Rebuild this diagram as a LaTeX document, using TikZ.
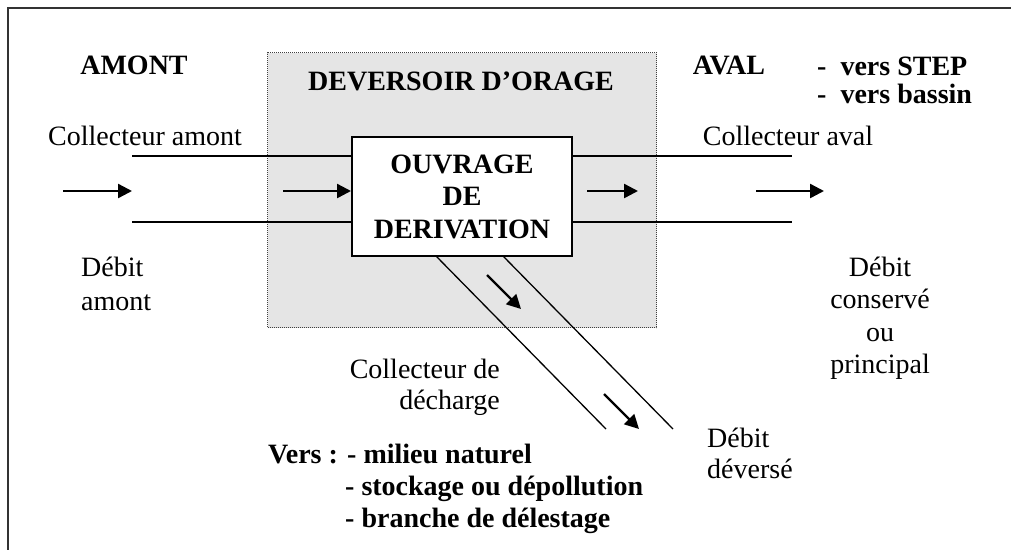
\documentclass[tikz,border=0pt]{standalone}
\usepackage{fontspec}
\setmainfont{Liberation Serif}
\usetikzlibrary{arrows.meta}
\begin{document}
\begin{tikzpicture}[x=1pt,y=-1pt,
  txt/.style={font=\fontsize{28}{33}\selectfont, inner sep=0pt},
  btxt/.style={font=\fontsize{28}{33}\selectfont\bfseries, inner sep=0pt},
  framefill/.style={fill=black!80},
  pipe/.style={line width=1.8pt},
  diag/.style={line width=1.3pt},
  flow/.style={line width=2.4pt, -{Triangle[length=14pt,width=14pt]}},
]
\useasboundingbox (0,0) rectangle (1011,550);
% deversoir zone
\node[draw=black!75, densely dotted, line width=1pt, fill=black!10,
      minimum width=389pt, minimum height=275pt, inner sep=0pt,
      anchor=north west] (dev) at (267,52) {};
% frame (cropped): left and top edges only
\coordinate (fl1) at (6.5,6.5);
\coordinate (fl2) at (8.5,550);
\coordinate (ft2) at (1011,8.5);
\fill[framefill] (fl1) rectangle (fl2);
\fill[framefill] (fl1) rectangle (ft2);
% pipes
\coordinate (ua) at (132,156);
\coordinate (la) at (132,222);
\coordinate (ub) at (792,156);
\coordinate (lb) at (792,222);
\coordinate (d1s) at (436,256);
\coordinate (d1e) at (606,429);
\coordinate (d2s) at (503,256);
\coordinate (d2e) at (673,429);
\draw[diag] (d1s) -- (d1e);
\draw[diag] (d2s) -- (d2e);
% central box
\node[draw, line width=2pt, fill=white, minimum width=220pt, minimum height=119pt,
      inner sep=0pt, align=center, font=\fontsize{28}{32.5}\selectfont\bfseries]
      (ouv) at (462,196.5) {OUVRAGE\\DE\\DERIVATION};
\draw[pipe] (ua) -- (ua -| ouv.west);
\draw[pipe] (la) -- (la -| ouv.west);
\draw[pipe] (ouv.east |- ub) -- (ub);
\draw[pipe] (ouv.east |- lb) -- (lb);
% flow arrows
\coordinate (a1s) at (63,191);
\coordinate (a1e) at (132,191);
\coordinate (a2s) at (283,191);
\coordinate (a3s) at (587,191);
\coordinate (a3e) at (638,191);
\coordinate (a4s) at (756,191);
\coordinate (a4e) at (824,191);
\coordinate (a5s) at (487,275);
\coordinate (a5e) at (521,309);
\coordinate (a6s) at (604,394);
\coordinate (a6e) at (639,429);
\draw[flow] (a1s) -- (a1e);
\draw[flow] (a2s) -- (a2s -| ouv.west);
\draw[flow] (a3s) -- (a3e);
\draw[flow] (a4s) -- (a4e);
\draw[flow] (a5s) -- (a5e);
\draw[flow] (a6s) -- (a6e);
% labels
\node[btxt, anchor=base] (amont) at (134,74) {AMONT};
\node[btxt, anchor=base] (devt) at (461,90) {DEVERSOIR D’ORAGE};
\node[btxt, anchor=base] (aval) at (729,74) {AVAL};
\node[btxt, anchor=base west] (step) at (817,75) {-\hspace{14pt}vers STEP};
\node[btxt, anchor=base west] (bassin) at (817,103) {-\hspace{14pt}vers bassin};
\node[txt, anchor=base] (camont) at (145,145) {Collecteur amont};
\node[txt, anchor=base] (caval) at (788,145) {Collecteur aval};
\node[txt, anchor=base west] (dam1) at (81,276) {Débit};
\node[txt, anchor=base west] (dam2) at (81,310) {amont};
\node[txt, anchor=base] (dc1) at (880,276) {Débit};
\node[txt, anchor=base] (dc2) at (880,308.5) {conservé};
\node[txt, anchor=base] (dc3) at (880,341) {ou};
\node[txt, anchor=base] (dc4) at (880,373) {principal};
\node[txt, anchor=base east] (cd1) at (500,378) {Collecteur de};
\node[txt, anchor=base east] (cd2) at (500,409) {décharge};
\node[txt, anchor=base west] (dd1) at (707,447) {Débit};
\node[txt, anchor=base west] (dd2) at (707,478) {déversé};
\node[btxt, anchor=base west] (v1) at (268,463) {Vers : - milieu naturel};
\node[btxt, anchor=base west] (v2) at (345,495) {- stockage ou dépollution};
\node[btxt, anchor=base west] (v3) at (345,527) {- branche de délestage};
\end{tikzpicture}
\end{document}
